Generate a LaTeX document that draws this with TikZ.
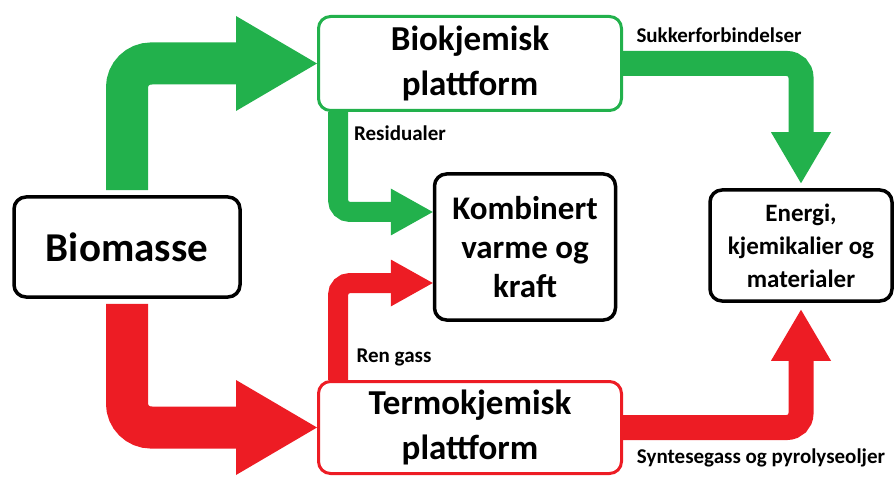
\documentclass[tikz,border=0pt]{standalone}
\usepackage{fontspec}
\setmainfont{Carlito}
\usepackage{xcolor}
\usetikzlibrary{arrows.meta}

\definecolor{pgreen}{HTML}{22B14C}
\definecolor{pred}{HTML}{ED1C24}

\begin{document}
\begin{tikzpicture}[
  x=1pt, y=-1pt,
  box/.style={rectangle, draw, rounded corners=12pt, align=center, line width=3.5pt, inner sep=0pt, fill=white},
  lbl/.style={font=\bfseries\fontsize{21}{23}\selectfont, inner sep=0pt},
  bigarr/.style={line width=42pt, rounded corners=24pt, -{Triangle[length=81pt, width=95pt, line width=0pt]}},
  midarr/.style={line width=25pt, rounded corners=14pt, -{Triangle[length=51pt, width=60pt, line width=0pt]}},
  smallarr/.style={line width=20pt, rounded corners=12pt, -{Triangle[length=42pt, width=47pt, line width=0pt]}},
]
  \useasboundingbox (0,0) rectangle (896,478);
  \node[box, minimum width=226pt, minimum height=100pt, font=\bfseries\fontsize{41}{46}\selectfont] (bio) at (127,247) {Biomasse};
  \node[box, draw=pgreen, line width=3pt, minimum width=303pt, minimum height=94pt, font=\bfseries\fontsize{35}{45}\selectfont] (biok) at (470,63.5) {Biokjemisk\\plattform};
  \node[box, minimum width=181pt, minimum height=146pt, font=\bfseries\fontsize{33}{39}\selectfont] (komb) at (525,247) {Kombinert\\varme og\\kraft};
  \node[box, minimum width=182pt, minimum height=111pt, font=\bfseries\fontsize{25}{33}\selectfont] (energ) at (801,245.5) {Energi,\\kjemikalier og\\materialer};
  \node[box, draw=pred, line width=3pt, minimum width=303pt, minimum height=92pt, font=\bfseries\fontsize{35}{45}\selectfont] (termo) at (470,427.5) {Termokjemisk\\plattform};

  % labels
  \node[lbl] (res) at (400,133) {Residualer};
  \node[lbl] (ren) at (394,357) {Ren gass};
  \node[lbl] (sukk) at (719,35) {Sukkerforbindelser};
  \node[lbl] (synt) at (761,458) {Syntesegass og pyrolyseoljer};

  % flows
  \draw[bigarr, pgreen, shorten <=5pt] (bio.north) |- (biok.west);
  \draw[bigarr, pred, shorten <=5pt] (bio.south) |- (termo.west);
  \draw[smallarr, pgreen] ([xshift=21pt]biok.south west) |- ([yshift=35pt]komb.west);
  \draw[smallarr, pred] ([xshift=21pt]termo.north west) |- ([yshift=-36pt]komb.west);
  \draw[midarr, pgreen, shorten >=5pt] (biok.east) -| (energ.north);
  \draw[midarr, pred, shorten >=7pt] (termo.east) -| (energ.south);
\end{tikzpicture}
\end{document}
